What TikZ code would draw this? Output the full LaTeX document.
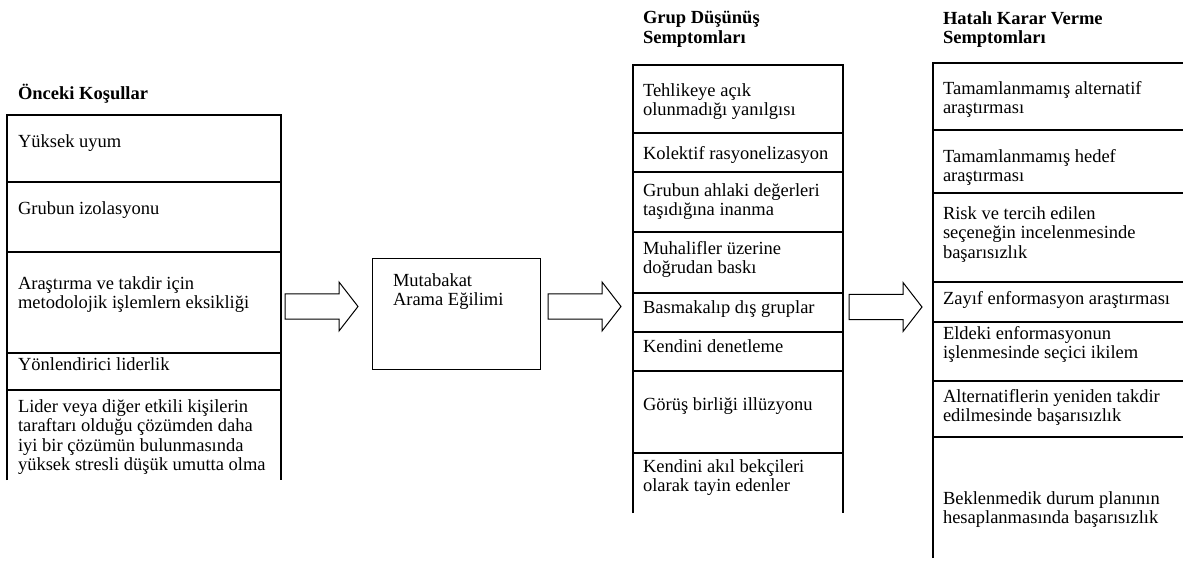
\documentclass[tikz,border=0pt]{standalone}
\usepackage{fontspec}
\setmainfont{Liberation Serif}
\newcommand\bodyfont{\fontsize{18.5pt}{19.5pt}\selectfont}
\begin{document}
\begin{tikzpicture}[x=1pt,y=-1pt,
  colline/.style={line width=1.8pt},
  thinline/.style={line width=1.2pt},
  cell/.style={anchor=north west, inner sep=0pt, outer sep=0pt, align=left,
    font=\bodyfont, yshift=13.65pt, execute at begin node=\strut},
  ttl/.style={cell, font=\bodyfont\bfseries},
  blockarrow/.pic={\draw[line width=1pt] (0,-12.5) -- (54,-12.5) -- (54,-24.5) -- (73,0)
      -- (54,24.5) -- (54,12.5) -- (0,12.5) -- cycle;}]
\useasboundingbox (0,0) rectangle (1183,561);

% ---------- left column ----------
\coordinate (A-nw) at (7,115);
\coordinate (A-ne) at (281,115);
\draw[colline] (7,480) -- (A-nw) -- (A-ne) -- (281,480);
\foreach \y in {182,252,353,390} \draw[colline] (7,\y) -- (281,\y);
\node[ttl] (tA) at (18,98) {Önceki Koşullar};
\node[cell] (a1) at (18,148) {Yüksek uyum};
\node[cell] (a2) at (18,215) {Grubun izolasyonu};
\node[cell] (a3) at (18,290) {Araştırma ve takdir için\\metodolojik işlemlern eksikliği};
\node[cell] (a4) at (18,370) {Yönlendirici liderlik};
\node[cell] (a5) at (18,413) {Lider veya diğer etkili kişilerin\\taraftarı olduğu çözümden daha\\iyi bir çözümün bulunmasında\\yüksek stresli düşük umutta olma};

% ---------- middle box ----------
\node[draw, thinline, anchor=north west, minimum width=168pt, minimum height=111pt, inner sep=0pt] (B) at (372,258) {};
\node[cell] (b1) at (393,287) {Mutabakat\\Arama Eğilimi};

% ---------- group-think column ----------
\coordinate (C-nw) at (633,65);
\coordinate (C-ne) at (843,65);
\draw[colline] (633,513) -- (C-nw) -- (C-ne) -- (843,513);
\foreach \y in {133,172,232,293,332,371,453} \draw[colline] (633,\y) -- (843,\y);
\node[ttl] (tC) at (643,25) {Grup Düşünüş\\Semptomları};
\node[cell] (c1) at (643,97) {Tehlikeye açık\\olunmadığı yanılgısı};
\node[cell] (c2) at (643,160) {Kolektif rasyonelizasyon};
\node[cell] (c3) at (643,197) {Grubun ahlaki değerleri\\taşıdığına inanma};
\node[cell] (c4) at (643,255) {Muhalifler üzerine\\doğrudan baskı};
\node[cell] (c5) at (643,313) {Basmakalıp dış gruplar};
\node[cell] (c6) at (643,352) {Kendini denetleme};
\node[cell] (c7) at (643,410) {Görüş birliği illüzyonu};
\node[cell] (c8) at (643,473) {Kendini akıl bekçileri\\olarak tayin edenler};

% ---------- faulty decision column ----------
\coordinate (D-nw) at (933,63);
\draw[colline] (933,558) -- (D-nw) -- (1195,63);
\foreach \y in {130,193,282,322,381,437} \draw[colline] (933,\y) -- (1195,\y);
\node[ttl] (tD) at (943,25) {Hatalı Karar Verme\\Semptomları};
\node[cell] (d1) at (943,95) {Tamamlanmamış alternatif\\araştırması};
\node[cell] (d2) at (943,163) {Tamamlanmamış hedef\\araştırması};
\node[cell] (d3) at (943,220) {Risk ve tercih edilen\\seçeneğin incelenmesinde\\başarısızlık};
\node[cell] (d4) at (943,305) {Zayıf enformasyon araştırması};
\node[cell] (d5) at (943,340) {Eldeki enformasyonun\\işlenmesinde seçici ikilem};
\node[cell] (d6) at (943,403) {Alternatiflerin yeniden takdir\\edilmesinde başarısızlık};
\node[cell] (d7) at (943,505) {Beklenmedik durum planının\\hesaplanmasında başarısızlık};

% ---------- block arrows ----------
\pic at (285,306.5) {blockarrow};
\pic at (548,306.5) {blockarrow};
\pic at (849,307) {blockarrow};
\end{tikzpicture}
\end{document}
